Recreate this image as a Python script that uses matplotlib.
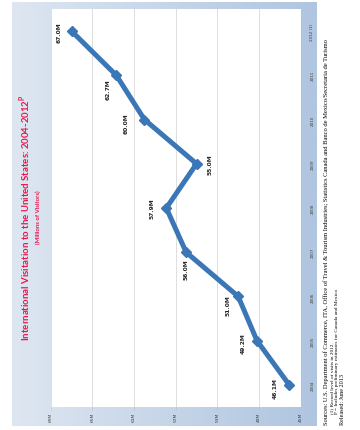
import numpy as np
import matplotlib
matplotlib.use("Agg")
import matplotlib.pyplot as plt
from matplotlib.colors import LinearSegmentedColormap

years = ["2004", "2005", "2006", "2007", "2008", "2009", "2010", "2011", "2012 (1)"]
visitors = [46.1, 49.2, 51.0, 56.0, 57.9, 55.0, 60.0, 62.7, 67.0]
value_ticks = [69, 65, 61, 57, 53, 49, 45]
# label offsets in pixels (picture is turned on its side)
label_offsets = [(-14, -3), (-14, -2), (-10, -8), (0, -16), (-14, 0),
                 (14, 0), (-18, -3), (-8, -13), (-12, -1)]

W, H = 360, 431
fig = plt.figure(figsize=(W / 100, H / 100), dpi=100)
fig.patch.set_facecolor("white")

# gradient panel behind the chart
bg = fig.add_axes([12 / W, 1 - 427 / H, (317 - 12) / W, (427 - 3) / H])
grad = np.linspace(0, 1, 256).reshape(1, -1)
cm_bg = LinearSegmentedColormap.from_list("bg", ["#DEE6F1", "#AFC5E0"])
bg.imshow(grad, aspect="auto", cmap=cm_bg, extent=[0, 1, 0, 1])
bg.axis("off")

ax = fig.add_axes([50.7 / W, 1 - 408 / H, (300.7 - 50.7) / W, (408 - 10) / H])
ax.set_facecolor("white")
ypos = np.arange(len(years))
ax.plot(visitors, ypos, color="#3B76B6", lw=3.6, marker="D", ms=5.5,
        mfc="#3B76B6", mec="#3B76B6", solid_capstyle="round", zorder=3)

for v, y, (dx, dy) in zip(visitors, ypos, label_offsets):
    ax.annotate("%.1fM" % v, (v, y), xytext=(dx, dy), textcoords="offset pixels",
                rotation=90, ha="center", va="center", fontsize=4.3,
                fontweight="bold", color="#262626")

ax.set_xlim(69, 45)
ax.set_ylim(-0.5, len(years) - 0.5)
ax.set_xticks(value_ticks)
ax.set_xticklabels(["%dM" % t for t in value_ticks], rotation=90, fontsize=3.2,
                   color="#404040")
ax.tick_params(axis="x", length=2, width=0.5, color="#BFBFBF", pad=1.5)
ax.grid(axis="x", color="#D9D9D9", lw=0.6)
ax.set_axisbelow(True)
ax.yaxis.tick_right()
ax.set_yticks(ypos)
ax.set_yticklabels(years, rotation=90, va="center", ha="left", fontsize=3,
                   color="#404040")
ax.tick_params(axis="y", length=0, pad=7)
for s in ax.spines.values():
    s.set_visible(False)
ax.spines["right"].set_visible(True)
ax.spines["right"].set_color("#BFBFBF")
ax.spines["right"].set_linewidth(0.6)

fig.text(25 / W, 1 - 218 / H, r"International Visitation to the United States: 2004-2012$^\mathregular{P}$",
         rotation=90, ha="center", va="center", color="#E8174B", fontsize=6.9,
         family="Lato", fontweight="bold")
fig.text(38 / W, 1 - 217 / H, "(Millions of Visitors)", rotation=90, ha="center",
         va="center", color="#E8174B", fontsize=4.3, family="Lato", fontweight="bold")

serif = "Liberation Serif"
fig.text(326 / W, 1 - 425 / H,
         "Sources: U.S. Department of Commerce, ITA, Office of Travel & Tourism Industries; "
         "Statistics Canada and Banco de Mexico/Secretaria de Turismo",
         rotation=90, ha="center", va="bottom", fontsize=4.7, family=serif)
fig.text(332 / W, 1 - 414 / H, "(1) Record level of visits in 2012.",
         rotation=90, ha="center", va="bottom", fontsize=3.8, family=serif)
fig.text(337 / W, 1 - 414 / H, "P = Includes preliminary estimates for Canada and Mexico",
         rotation=90, ha="center", va="bottom", fontsize=3.8, family=serif)
fig.text(343 / W, 1 - 425 / H, "Released: June 2013",
         rotation=90, ha="center", va="bottom", fontsize=4.4, family=serif)

fig.savefig("out.png", dpi=100)
